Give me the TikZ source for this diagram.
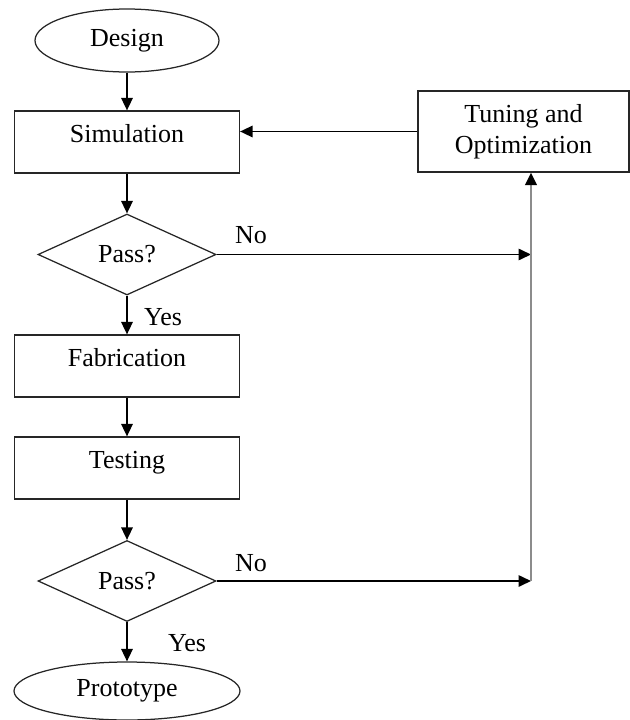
\documentclass[tikz,border=0pt]{standalone}
\usepackage{fontspec}
\setmainfont{Liberation Serif}
\usetikzlibrary{shapes.geometric,arrows.meta}

\begin{document}
\begin{tikzpicture}[x=0.4pt, y=-0.4pt, font=\fontsize{10.4}{12.2}\selectfont]
\tikzstyle{block} = [rectangle, draw=black!85, line width=0.5pt, minimum width=90pt, minimum height=24.8pt, inner sep=2pt]
\tikzstyle{box} = [block, text height=7.4pt, text depth=6.8pt]
\tikzstyle{term} = [ellipse, draw=black!85, line width=0.5pt, inner sep=0pt]
\tikzstyle{test} = [diamond, draw=black!85, line width=0.5pt, minimum width=71.2pt, minimum height=32.4pt, inner sep=0pt]
\tikzstyle{flow} = [-{Triangle[length=5pt, width=4.6pt]}, line width=0.65pt]

\useasboundingbox (0,0) rectangle (630,720);

\node[term, minimum width=73.6pt, minimum height=25.2pt] (design) at (127,40.5) {Design};
\node[box] (sim) at (127,142) {Simulation};
\node[block, minimum width=84.4pt, minimum height=32.4pt, align=center] (tune) at (523.5,131.5) {Tuning and\\Optimization};
\node[test] (pass1) at (127,254.5) {Pass?};
\node[box] (fab) at (127,366) {Fabrication};
\node[box] (test) at (127,468) {Testing};
\node[test] (pass2) at (127,581) {Pass?};
\node[term, minimum width=90.4pt, minimum height=23.2pt] (proto) at (127,691) {Prototype};

\node (no1) at (251,235) {No};
\node (yes1) at (163,317) {Yes};
\node (no2) at (251,563) {No};
\node (yes2) at (187,643) {Yes};

\coordinate (j1) at (531,254.5);
\coordinate (j2) at (531,581);

\draw[flow] (design) -- (sim);
\draw[flow] (sim) -- (pass1);
\draw[flow] (pass1) -- (fab);
\draw[flow] (fab) -- (test);
\draw[flow] (test) -- (pass2);
\draw[flow] (pass2) -- (proto);
\draw[flow] (tune.west) -- (tune.west -| sim.east);
\draw[flow] (pass1.east) -- (j1);
\draw[flow] (pass2.east) -- (j2);
\draw[black!45, line width=0.9pt, -{Triangle[length=5pt, width=4.6pt, color=black, fill=black]}] (j2) -- (j2 |- tune.south);
\end{tikzpicture}
\end{document}
